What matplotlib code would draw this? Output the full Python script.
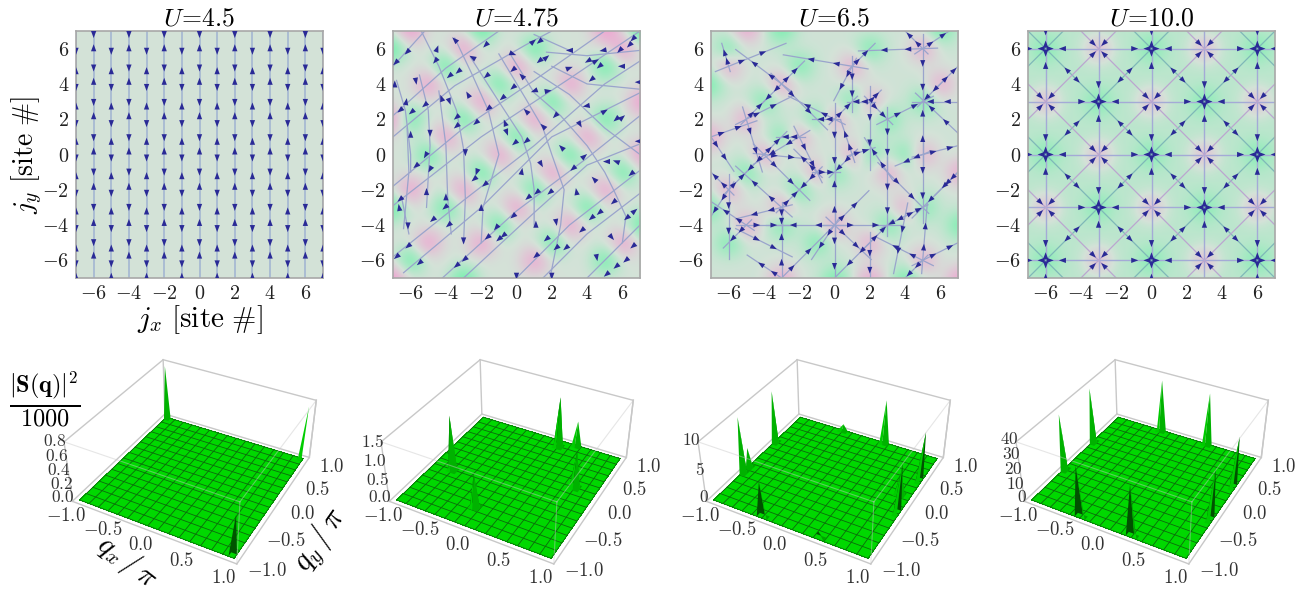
import numpy as np
import matplotlib
matplotlib.use("Agg")
import matplotlib.pyplot as plt
from matplotlib.colors import LinearSegmentedColormap, LightSource
from mpl_toolkits.mplot3d import proj3d

plt.rcParams['mathtext.fontset'] = 'cm'
plt.rcParams['font.family'] = 'STIXGeneral'

# top row titles
titles = ["$U\\!=\\!4.5$", "$U\\!=\\!4.75$", "$U\\!=\\!6.5$", "$U\\!=\\!10.0$"]
site_ticks = [-6, -4, -2, 0, 2, 4, 6]

# panel 1, arrow heights on even and odd columns
even_cols = [-6, -4, -2, 0, 2, 4, 6]
odd_cols = [-7, -5, -3, -1, 1, 3, 5, 7]
even_down = [6.8, 4.9, 2.95, 0.95, -1.0, -3.0, -5.0]
even_up = [6.05, 4.15, 2.2, 0.2, -1.8, -3.85, -5.7]
odd_down = [5.85, 3.8, 1.75, -0.2, -2.2, -4.2, -6.2]
odd_up = [4.75, 2.75, 0.75, -1.2, -3.2, -5.3, -6.9]

# panel 2, spin density maxima (green) and minima (pink) on sites
p2_green = [(-7, 6), (-4, 5), (-2, 7), (-1, 4), (1, 6), (2, 3), (5, 5), (7, 7), (-6, 2), (-3, 2), (0, 1), (3, 0),
            (6, -1), (5, 2), (-5, 0), (-2, -1), (1, -2), (4, -3), (7, -4), (-7, -3), (-4, -3), (-1, -4), (2, -5),
            (5, -6), (-6, -6), (-3, -7)]
p2_pink = [(-6, 7), (-3, 6), (-5, 4), (-2, 3), (0, 5), (1, 2), (3, 4), (4, 1), (5, -2), (-4, 1), (-1, 0), (2, -1),
           (-6, -2), (-7, 2), (-3, -2), (0, -3), (3, -4), (6, -5), (-5, -5), (-2, -5), (1, -6), (-7, -7), (6, 6),
           (5, 7), (7, 3), (7, 0)]
p2_lines = [
    [(-7, 5.0), (-5.2, 7)],
    [(-7, 2.2), (-4, 4.9), (-1, 7)],
    [(-7, 1.0), (-3.5, 3.9), (0.5, 6.2), (2, 7)],
    [(-7, -1.8), (-3, 1.5), (1, 4.2), (5, 7)],
    [(-7, -2.9), (-2, 1.0), (3, 4.3), (7, 7)],
    [(-7, -5.8), (-3, -2.6), (1, 0.5), (5, 4), (7, 5.3)],
    [(-6.4, -6.7), (-2, -3), (2, 1), (7, 3.5)],
    [(-4.2, -7), (0, -3.2), (4, -0.2), (7, 2.2)],
    [(-3, -7), (1, -3.3), (4, -0.6), (7, 0.6)],
    [(0, -7), (3, -4), (7, -0.9)],
    [(1.5, -7), (4, -4.5), (7, -2.2)],
    [(4, -7), (7, -4)],
    [(-6.8, 4.2), (-6.3, 2.5), (-6, 0), (-6, -1)],
    [(-5.5, 4.5), (-5, 2.5), (-4.9, 0.5), (-5.1, -3)],
    [(-4.4, 3.6), (-4, 0.5), (-3.9, -2.5), (-3.7, -4.5)],
    [(-5.4, 7), (-4.4, 5), (-3.4, 2.5), (-3, 0.3), (-2.9, -2.5), (-3, -5)],
    [(-3.5, 6.6), (-2.5, 4.5), (-1.6, 2.5), (-1, 0), (-1.9, -3), (-2, -5)],
    [(-2.6, 5.5), (-1, 3), (0.3, 1), (0.8, -0.5), (1, -2), (1, -4)],
    [(-1, 5.7), (0.5, 3.2), (1.5, 1.5), (2, 0), (2.7, -2), (2.5, -4), (1.9, -7)],
    [(-0.3, 5.6), (1, 3.5), (2.5, 2.2), (4, 0.5), (5, -1), (5.5, -2), (6.2, -3.5), (6, -5)],
    [(1, 4.7), (3, 3.4), (5, 1.5), (7, 0)],
    [(2, 5), (4, 4), (7, 3.7)],
    [(1.7, 5.8), (4, 5.6), (7, 5.9)],
    [(1, 6.8), (3, 5.9)],
    [(-6.2, 1.5), (-6.1, -1), (-6.4, -4.2)],
    [(-6.5, -2.5), (-6.1, -4.5)],
]
p2_ax = [-6.2, -6.85, -4.5, -4.6, -3.5, -2.5, -1.75, -0.2, 0.95, 1.3, 3, 4.9, 6.6, 6.4, 5.85, 1.3, 1.7, -0.2, -1.7,
         0.3, -3.3, -3.8, -5.7, -6.9, -6.25, -6.6, -5.95, -5.2, -4.25, -3.8, -2.75, -3.4, -2.3, -1.6, -0.8, -0.2,
         1, 1.8, 3, 4.05, 4.5, 4.7, 5.95, 6.9, 4.25, 3.95, 5, 5.65, 6, 2.2, 3.6, 1.5, 0.55, -0.55, -0.65, 0.55,
         -0.1, 2.55, 3.2, 3.85, 5.1, 5.65, 6.9, 6.5, 4.4, 1.4, 0.3, -5.7, -5.15, -4.9, -6, -4.9, -3.4, -2.9, -2.25,
         -2.4, -1.8, -5.1, -4, -6.6, -6.65, -6.15, -4.75, -4.05, -3.85, -2, -1.15, -0.2, -0.75, -1.65, 1.15, 0.65,
         1.9, 3.4, 1.1, 2.25, 4.7, 5.5, 6.25, 6.7, 5.4, -6.15, -6.8, -5.5, -3, -2.95, -3.4, -1, 1.7, 1.1, 2.25,
         2.8, 2, 0, 4.55, 5.1, 5.65, 6.2, 6.6, 4.25, 3.7]
p2_ay = [5.8, 5.2, 6, 5.3, 6.5, 5.5, 6.2, 5.7, 6.4, 6.4, 5.9, 5.9, 6.55, 6.2, 5.9, 5.3, 5.5, 4.8, 4.45, 4.45, 4.7,
         4.45, 4.15, 4, 3, 2.5, 2.4, 2.8, 3.2, 3, 3.4, 2.1, 1.8, 2.6, 3.2, 3.8, 3.6, 3.6, 4.9, 5.3, 5.3, 5, 5, 4.1,
         4.25, 2.75, 2.45, 2, 2.1, 2.2, 1.7, 1.6, 2.45, 1.25, 1.8, 0.75, 0.65, 0.4, -0.8, -0.1, -0.4, -0.4, 0.75,
         -1.1, -1.4, -0.55, -0.95, -0.65, -0.05, -0.85, 1.15, 1.2, 1.6, 0.1, -1, -1.4, -1.7, -2.1, -2.4, -2.55, -3,
         -4.05, -3.7, -3, -4, -3, -4.15, -3.5, -4.6, -4.7, -2.15, -2.45, -2.15, -2.1, -3.95, -3.85, -3.3, -2.7,
         -3.6, -3.2, -4.7, -5.2, -5.8, -6.15, -4.9, -5.95, -6.3, -4.8, -4.8, -5.75, -5.3, -5.3, -6.9, -6.9, -5.85,
         -6.8, -6.35, -6, -5.2, -3.6, -4.3]
p2_ang = [225, 225, 70, 230, 135, 150, 225, 340, 40, 220, 180, 190, 225, 225, 225, 220, 40, 220, 220, 135, 220, 220,
          280, 90, 80, 220, 220, 220, 110, 290, 120, 220, 220, 220, 220, 220, 200, 10, 20, 210, 30, 220, 180, 180,
          220, 190, 30, 220, 40, 225, 300, 135, 135, 290, 110, 220, 220, 135, 220, 40, 180, 160, 180, 220, 135, 300,
          80, 220, 240, 240, 90, 270, 220, 270, 250, 220, 220, 90, 90, 220, 100, 270, 220, 220, 220, 90, 230, 220,
          220, 220, 220, 220, 220, 100, 90, 280, 220, 220, 220, 40, 310, 220, 220, 220, 270, 220, 220, 220, 220, 220,
          220, 220, 270, 270, 280, 220, 220, 220, 220, 220, 220]

# panel 3, maxima and minima on sites
p3_green = [(-6, 6), (-2, 5), (2, 6), (-3, 7), (6, 7), (-7, 4), (1, 3), (5, 3), (-4, 3), (-1, 2), (3, 2), (-3, 1),
            (4, 0), (2, 0), (-5, -1), (0, -1), (-2, -2), (5, -3), (-3, -4), (3, -4), (-6, -5), (-1, -5), (7, -4),
            (4, -7), (0, -7), (-7, -3)]
p3_pink = [(5, 6), (-6, 5), (-3, 4), (1, 5), (2, 3), (-5, 2), (0, 2), (-2, 1), (-7, 1), (-4, 0), (1, 0), (5, 0),
           (3, -1), (-1, -1), (-6, -2), (-3, -3), (0, -4), (4, -3), (2, -5), (-5, -4), (5, -6), (-3, -7), (2, -7),
           (7, -7), (-5, 7), (6, 4), (7, -1)]
# flow segments x0, y0, x1, y1, arrows run towards the end
p3_segments = [
    (5, 6, 5, 3.2), (5, 6, 2.2, 5.9), (5, 6, 6.5, 7), (5, 6, 4, 7), (7, 3, 5, 3), (6.8, 1.4, 5.1, 3), (3, 2, 5, 3),
    (5, 0, 5, 3), (5, 0, 5, -3), (5, 0, 7, 0.5), (5, 0, 3.8, -0.5), (3, -1, 3, -3.8), (3, -1, 2, 0.5),
    (3, -1, 4.8, -2.8), (0, -4, 0, -1), (0, -4, 0, -7), (0, -4, 3, -4), (0, -4, -3, -4), (0, -4, 1.5, -2.5),
    (0, -4, -1, -5.5), (0, -4, 1.6, -5.5), (-6, -2, -6, -5), (-6, -2, -7, -1), (-6, -2, -5, -1), (-6, -2, -7, -3.5),
    (-3, -3, -3, -4), (-3, -3, -5, -3.5), (-3, -3, -2, -2), (-3, -3, -5, -1.2), (-2, 1, -3, 1), (-2, 1, -4, -0.2),
    (-2, 1, -1, -1), (1, 5, 1, 3), (1, 5, 0.2, 3.5), (1, 5, -2, 5.5), (1, 5, 2, 6), (-3, 4, -4, 3), (-3, 4, -2, 5),
    (-3, 4, -1, 2), (-3, 4, -5, 5.5), (-6, 5, -6.3, 6), (-6, 5, -3.5, 6), (-7, 1, -5, 1.7), (-7, 1, -6, -0.5),
    (-5, 2, -4.3, -0.3), (-5, 2, -4, 3), (-5, 2, -3, 3), (-4, 0, -5, -1), (-4, 0, -2, -0.2), (-4, 0, -3, 1),
    (-4, 0, -2, -2), (0, 2, 0, -1), (0, 2, -1, 2), (0, 2, 1, 3), (0, 2, -2, 3), (2, 3, 2, 0), (2, 3, 1, 3),
    (2, 3, 3, 2), (2, 3, 2.5, 3.5), (3, 2, 3, -0.4), (-1, -1, 0, -1), (-1, -1, -2, -2), (-1, -1, -2, 0),
    (1, 0, 0, -1), (1, 0, 2, 0.3), (1, 0, 0.5, 1.5), (4, -3.5, 3, -4), (4, -3.5, 5, -3), (4, -3.5, 3.5, -6),
    (2, -5, 3, -4), (2, -5, 2, -7), (2, -5, 0.5, -6.5), (-5, -4, -6, -5), (-5, -4, -3, -4), (-5, -4, -6.5, -3),
    (-5, -4.5, -3, -5.5), (5, -6, 4, -7), (5, -6, 5.2, -3.5), (5, -6, 7, -5), (5, -6, 3, -5), (7, -1, 5, -3),
    (7, -1, 6, -2), (6, 4, 5, 3), (6, 4, 7, 5), (-3, -7, -4.5, -6), (-3, -7, -3, -4), (-3, -7, -1, -5),
]

# panel 4, ordered lattice
p4_green = [(-6, 6), (0, 6), (6, 6), (-3, 3), (3, 3), (-6, 0), (0, 0), (6, 0), (-3, -3), (3, -3), (-6, -6), (0, -6),
            (6, -6)]
p4_pink = [(-3, 6), (3, 6), (-6, 3), (0, 3), (6, 3), (-3, 0), (3, 0), (-6, -3), (0, -3), (6, -3), (-3, -6), (3, -6)]
p4_straight = [-6, -3, 0, 3, 6]
p4_diag_green = [-12, -6, 0, 6, 12]
p4_diag_pink = [-9, -3, 3, 9]

# bottom row, structure factor peaks
q_ticks = [-1.0, -0.5, 0.0, 0.5, 1.0]
z_ticks = [[0.0, 0.2, 0.4, 0.6, 0.8], [0.0, 0.5, 1.0, 1.5], [0, 5, 10], [0, 10, 20, 30, 40]]
z_fmt = ["%.1f", "%.1f", "%d", "%d"]
z_tops = [0.85, 1.6, 10.5, 41]
p1_qx, p1_qy, p1_h = [-1, 1, 1], [1, 1, -1], [0.8, 0.78, 0.62]
p2_qx, p2_qy, p2_h = [-0.75, 0.2, 0.4, 0.75, -0.15], [-0.2, 0.87, 1.0, 0.2, -0.7], [1.5, 1.4, 0.7, 1.0, 0.9]
p3_qx = [-1, -1, -1, 0.25, -0.35, 1, 1, 0.85, -0.33, 0.4]
p3_qy = [-0.4, 0.3, -0.25, 1, 1, 0.45, -0.2, 0.13, -1, -1]
p3_h = [10, 9.5, 3.5, 8, 1.2, 9, 9, 4, 6.5, 1.5]
p4_qx = [-1, -1, -0.33, 0.33, 1, 1, -0.33, 0.33]
p4_qy = [-0.33, 0.33, 1, 1, 0.33, -0.33, -1, -1]
p4_h = [39, 39, 37, 37, 36, 36, 36, 36]
all_peaks = [(p1_qx, p1_qy, p1_h), (p2_qx, p2_qy, p2_h), (p3_qx, p3_qy, p3_h), (p4_qx, p4_qy, p4_h)]

W, H = 1298, 591
fig = plt.figure(figsize=(W / 100, H / 100), dpi=100)
cmap = LinearSegmentedColormap.from_list("spin", ["#f0a4d2", "#d4e2d8", "#72f2ac"])
ARROW = "#2a2a96"
LINE = "#9aa4cc"


def density(green, pink, base=0.0, strength=1.0):
    grid = np.full((15, 15), base)
    for x, y in green:
        grid[y + 7, x + 7] = strength
    for x, y in pink:
        grid[y + 7, x + 7] = -strength
    return grid


def arrows(ax, x, y, angle, length=0.4):
    angle = np.radians(angle)
    ax.quiver(x, y, length * np.cos(angle), length * np.sin(angle), angles='xy', scale_units='xy', scale=1,
              units='xy', width=0.02, headwidth=15, headlength=20, headaxislength=20, pivot='mid', color=ARROW,
              zorder=4)


def top_axes(i, left):
    ax = fig.add_axes([left / W, 1 - 278 / H, 247 / W, 247 / H])
    ax.set_xlim(-7, 7)
    ax.set_ylim(-7, 7)
    ax.set_xticks(site_ticks)
    ax.set_yticks(site_ticks)
    ax.set_xticklabels(["$%d$" % t for t in site_ticks])
    ax.set_yticklabels(["$%d$" % t for t in site_ticks])
    ax.tick_params(length=0, labelsize=14.5, pad=5, labelcolor="#222222")
    for s in ax.spines.values():
        s.set_color("#a8a8a8")
        s.set_linewidth(1.2)
    ax.set_title(titles[i], fontsize=18.5, pad=-5)
    return ax


def show_density(ax, grid):
    ax.imshow(grid, origin='lower', extent=(-7.5, 7.5, -7.5, 7.5), cmap=cmap, vmin=-1, vmax=1,
              interpolation='bicubic', aspect='auto')
    ax.set_xlim(-7, 7)
    ax.set_ylim(-7, 7)


def label3d(ax, x, y, z, s, ha='center', size=13.5):
    # placed in the axes' view plane, from the 3d position
    px, py, _ = proj3d.proj_transform(x, y, z, ax.get_proj())
    ax.text2D(px, py, s, transform=ax.transData, fontsize=size, ha=ha, va='center', color="#333333", zorder=50)


# panel 1
ax = top_axes(0, 76)
show_density(ax, np.zeros((15, 15)))
for c in even_cols + odd_cols:
    ax.plot([c, c], [-7, 7], color="#a4b6d2", lw=1.2, zorder=2)
for c in even_cols:
    arrows(ax, [c] * 7, even_down, [270] * 7)
    arrows(ax, [c] * 7, even_up, [90] * 7)
for c in odd_cols:
    arrows(ax, [c] * 7, odd_down, [270] * 7)
    arrows(ax, [c] * 7, odd_up, [90] * 7)
ax.set_xlabel("$j_x\\ [\\mathrm{site}\\ \\#]$", fontsize=21, labelpad=0)
ax.set_ylabel("$j_y\\ [\\mathrm{site}\\ \\#]$", fontsize=20, labelpad=-2)

# panel 2
ax = top_axes(1, 393)
show_density(ax, density(p2_green, p2_pink, 0.0, 1.5))
for pts in p2_lines:
    xs, ys = zip(*pts)
    ax.plot(xs, ys, color=LINE, lw=0.9, zorder=2)
arrows(ax, p2_ax, p2_ay, p2_ang)

# panel 3
ax = top_axes(2, 711)
show_density(ax, density(p3_green, p3_pink, 0.05, 1.3))
for x0, y0, x1, y1 in p3_segments:
    ax.plot([x0 - 0.3 * (x1 - x0), x1 + 0.3 * (x1 - x0)], [y0 - 0.3 * (y1 - y0), y1 + 0.3 * (y1 - y0)], color=LINE,
            lw=0.9, zorder=2)
    for f in [0.3, 0.78]:
        arrows(ax, [x0 + f * (x1 - x0)], [y0 + f * (y1 - y0)], [np.degrees(np.arctan2(y1 - y0, x1 - x0))], 0.38)

# panel 4
ax = top_axes(3, 1028)
show_density(ax, density(p4_green, p4_pink, 0.25, 1.2))
for c in p4_straight:
    ax.plot([c, c], [-7, 7], color="#a4aad6", lw=1.0, zorder=2)
    ax.plot([-7, 7], [c, c], color="#a4aad6", lw=1.0, zorder=2)
for c in p4_diag_green:
    ax.plot([-7, 7], [-7 + c, 7 + c], color="#7fb8b8", lw=0.9, zorder=2)
    ax.plot([-7, 7], [7 + c, -7 + c], color="#7fb8b8", lw=0.9, zorder=2)
for c in p4_diag_pink:
    ax.plot([-7, 7], [-7 + c, 7 + c], color="#bba6d0", lw=0.9, zorder=2)
    ax.plot([-7, 7], [7 + c, -7 + c], color="#bba6d0", lw=0.9, zorder=2)
for x, y in p4_green:
    for a in [0, 90, 180, 270]:
        dx, dy = np.cos(np.radians(a)), np.sin(np.radians(a))
        arrows(ax, [x + 0.95 * dx], [y + 0.95 * dy], [a + 180])
        arrows(ax, [x + 0.25 * dx], [y + 0.25 * dy], [a], length=0.42)
    for a in [45, 135, 225, 315]:
        dx, dy = np.cos(np.radians(a)), np.sin(np.radians(a))
        arrows(ax, [x + 1.7 * dx], [y + 1.7 * dy], [a + 180], 0.38)
for x, y in p4_pink:
    for a in [45, 135, 225, 315]:
        dx, dy = np.cos(np.radians(a)), np.sin(np.radians(a))
        arrows(ax, [x + 0.42 * dx], [y + 0.42 * dy], [a + 180], length=0.42)

# bottom row
BOX = "#c8c8c8"
SURF = "#00d800"
MESH = "#0c6a0c"
q = np.linspace(-1, 1, 31)
light = LightSource(azdeg=160, altdeg=30)
rects = [(32, 324), (349, 324), (666, 324), (984, 324)]

for i, (qx, qy, h) in enumerate(all_peaks):
    l, b = rects[i]
    ax = fig.add_axes([l / W, (H - b - 270) / H, 320 / W, 280 / H], projection='3d', computed_zorder=False)
    ax.patch.set_visible(False)
    ax.set_proj_type('persp', focal_length=0.45)
    ax.view_init(elev=36, azim=-61.6)
    ax.set_box_aspect((1, 1, 0.4), zoom=0.917)
    ax.set_axis_off()
    top = z_tops[i]
    pad = 0.06
    ax.set_xlim(-1 - pad, 1 + pad)
    ax.set_ylim(-1 - pad, 1 + pad)
    ax.set_zlim(0, top)

    lo, hi = -1 - pad, 1 + pad
    # back edges of the box
    for xs, ys, zs in [([lo, hi], [hi, hi], [0, 0]), ([lo, lo], [lo, hi], [0, 0]), ([lo, lo], [hi, hi], [0, top]),
                       ([hi, hi], [hi, hi], [0, top]), ([lo, lo], [lo, lo], [0, top]),
                       ([lo, hi], [hi, hi], [top, top]), ([lo, lo], [lo, hi], [top, top])]:
        ax.plot(xs, ys, zs, color=BOX, lw=1.0, zorder=1)

    X, Y = np.meshgrid(q, q)
    ax.plot_surface(X, Y, np.zeros_like(X), rstride=30, cstride=30, color=SURF, shade=False, zorder=2,
                    antialiased=False, linewidth=0)
    for v in q[::2]:
        ax.plot([v, v], [-1, 1], [0, 0], color=MESH, lw=0.6, zorder=3)
        ax.plot([-1, 1], [v, v], [0, 0], color=MESH, lw=0.6, zorder=3)

    # peaks back to front
    order = np.argsort([a - b2 for a, b2 in zip(qx, qy)])
    for k, n in enumerate(order):
        ix = int(np.argmin(np.abs(q - qx[n])))
        iy = int(np.argmin(np.abs(q - qy[n])))
        xr = np.arange(max(ix - 1, 0), min(ix + 2, 31))
        yr = np.arange(max(iy - 1, 0), min(iy + 2, 31))
        PX, PY = np.meshgrid(q[xr], q[yr])
        PZ = np.zeros_like(PX)
        PZ[list(yr).index(iy), list(xr).index(ix)] = h[n]
        ax.plot_surface(PX, PY, PZ, rstride=1, cstride=1, color=SURF, shade=True, lightsource=light, linewidth=0,
                        antialiased=True, zorder=5 + k)

    # front edges of the box
    for xs, ys, zs in [([lo, hi], [lo, lo], [top, top]), ([hi, hi], [lo, hi], [top, top]),
                       ([hi, hi], [lo, lo], [0, top])]:
        ax.plot(xs, ys, zs, color=BOX, lw=0.8, alpha=0.45, zorder=40)
    for xs, ys, zs in [([lo, hi], [lo, lo], [0, 0]), ([hi, hi], [lo, hi], [0, 0]), ([hi, hi], [hi, hi], [0, top])]:
        ax.plot(xs, ys, zs, color=BOX, lw=1.0, zorder=40)

    for t in q_ticks:
        label3d(ax, t + 0.03, -1.3, 0, "$%.1f$" % t)
        label3d(ax, 1.38, t, 0, "$%.1f$" % t)
    for t in z_ticks[i]:
        label3d(ax, -1.02, -1.06, t + 0.07 * top, "$" + z_fmt[i] % t + "$", ha='right', size=12.5)

fig.text(45 / W, 1 - 400 / H, "$\\frac{|\\mathbf{S}(\\mathbf{q})|^2}{1000}$", fontsize=25, ha='center', va='center')
fig.text(127 / W, 1 - 562 / H, "$q_x\\,/\\,\\pi$", fontsize=21, ha='center', va='center', rotation=-38)
fig.text(320 / W, 1 - 540 / H, "$q_y\\,/\\,\\pi$", fontsize=22, ha='center', va='center', rotation=55)

fig.savefig("out.png", dpi=100)
